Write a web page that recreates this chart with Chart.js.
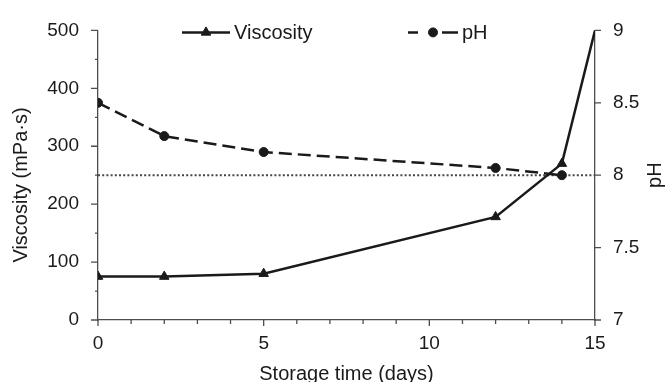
<!DOCTYPE html>
<html>
<head>
<meta charset="utf-8">
<script src="https://cdn.jsdelivr.net/npm/chart.js@4.4.0/dist/chart.umd.min.js"></script>
<style>
  body { margin: 0; background: #fff; }
  canvas { display: block; }
</style>
</head>
<body>
<canvas id="chart" width="670" height="382"></canvas>
<script>
// Viscosity and pH over storage time
const days = [0, 2, 5, 12, 14, 15];
const viscosity = [75, 75, 80, 178, 270, 500];
const phDays = [0, 2, 5, 12, 14];
const phValues = [8.5, 8.27, 8.16, 8.05, 8.0];
// dotted reference line at pH 8 (= 250 on left axis)
const refDays = [0, 15];
const refValues = [250, 250];

// tick labels
const xTicks = [0, 5, 10, 15];
const viscTicks = [0, 100, 200, 300, 400, 500];
const phTicks = [7, 7.5, 8, 8.5, 9];

const INK = "#1a1a1a";
const AXIS = "#4d4d4d";
const FONT = "'Liberation Sans', Arial, sans-serif";

Chart.defaults.font.family = FONT;
Chart.defaults.font.size = 19;
Chart.defaults.color = INK;

function toPoints(xs, ys) {
    return xs.map((x, i) => ({ x: x, y: ys[i] }));
}

function setTicks(list) {
    return scale => { scale.ticks = list.map(v => ({ value: v })); };
}

// legend key: short line with the dataset's marker in the middle
function drawKey(ctx, ds, x0, x1, y, segments) {
    ctx.save();
    ctx.strokeStyle = ds.borderColor;
    ctx.fillStyle = ds.backgroundColor;
    ctx.lineWidth = ds.borderWidth;
    ctx.beginPath();
    segments.forEach(s => { ctx.moveTo(s[0], y); ctx.lineTo(s[1], y); });
    ctx.stroke();
    ctx.lineWidth = 1;
    Chart.helpers.drawPoint(ctx, { pointStyle: ds.pointStyle, radius: ds.keyRadius, borderWidth: 1, rotation: 0 }, (x0 + x1) / 2, y);
    ctx.restore();
}

const extras = {
    id: "extras",
    afterDraw(chart) {
        const { ctx, chartArea: a, scales } = chart;
        const x = scales.x, y = scales.y, y1 = scales.y1;
        ctx.save();

        // tick marks (major + minor)
        ctx.strokeStyle = AXIS;
        ctx.lineWidth = 1.3;
        ctx.beginPath();
        for (let d = x.min; d <= x.max; d++) {
            const px = x.getPixelForValue(d);
            const len = d % 5 === 0 ? 6 : 4;
            ctx.moveTo(px, a.bottom);
            ctx.lineTo(px, a.bottom + len);
        }
        for (let v = y.min; v <= y.max; v += 50) {
            const py = y.getPixelForValue(v);
            const len = v % 100 === 0 ? 7 : 3;
            ctx.moveTo(a.left - len, py);
            ctx.lineTo(a.left, py);
        }
        phTicks.forEach(v => {
            const py = y1.getPixelForValue(v);
            ctx.moveTo(a.right, py);
            ctx.lineTo(a.right + 6, py);
        });
        ctx.stroke();

        // legend
        const ds = chart.data.datasets;
        const ly = a.top + 2;
        drawKey(ctx, ds[0], 182, 230, ly, [[182, 230]]);
        drawKey(ctx, ds[1], 408, 458, ly, [[408, 418], [442, 458]]);
        ctx.font = "20px " + FONT;
        ctx.fillStyle = INK;
        ctx.textAlign = "left";
        ctx.textBaseline = "middle";
        ctx.fillText(ds[0].label, 234, ly + 1);
        ctx.fillText(ds[1].label, 462, ly + 1);

        // axis titles
        ctx.textAlign = "center";
        ctx.save();
        ctx.translate(21, 185);
        ctx.rotate(-Math.PI / 2);
        ctx.fillText("Viscosity (mPa·s)", 0, 0);
        ctx.restore();
        ctx.save();
        ctx.translate(655, (a.top + a.bottom) / 2);
        ctx.rotate(-Math.PI / 2);
        ctx.fillText("pH", 0, 0);
        ctx.restore();
        ctx.textBaseline = "alphabetic";
        ctx.fillText("Storage time (days)", (a.left + a.right) / 2, 380);

        ctx.restore();
    }
};

new Chart(document.getElementById("chart"), {
    type: "line",
    data: {
        datasets: [
            {
                label: "Viscosity",
                data: toPoints(days, viscosity),
                yAxisID: "y",
                borderColor: INK,
                backgroundColor: INK,
                borderWidth: 2.5,
                pointStyle: "triangle",
                pointRadius: ctx => (ctx.raw && ctx.raw.y >= 500 ? 0 : 5.5),
                pointBorderWidth: 1,
                keyRadius: 5.5,
                order: 1
            },
            {
                label: "pH",
                data: toPoints(phDays, phValues),
                yAxisID: "y1",
                borderColor: INK,
                backgroundColor: INK,
                borderWidth: 2.5,
                borderDash: [13, 6],
                pointStyle: "circle",
                pointRadius: 4.5,
                pointBorderWidth: 1,
                keyRadius: 4.5,
                order: 0
            },
            {
                label: "ref",
                data: toPoints(refDays, refValues),
                yAxisID: "y",
                borderColor: "#444444",
                borderWidth: 2,
                borderDash: [2, 2.2],
                pointRadius: 0,
                order: 2
            }
        ]
    },
    options: {
        responsive: false,
        animation: false,
        events: [],
        layout: { padding: { top: 23, left: 0, right: 0, bottom: 0 } },
        plugins: {
            legend: { display: false },
            tooltip: { enabled: false }
        },
        scales: {
            x: {
                type: "linear",
                min: 0,
                max: 15,
                afterBuildTicks: setTicks(xTicks),
                afterFit: s => { s.height = 62; },
                grid: { drawOnChartArea: false, drawTicks: false },
                border: { color: AXIS, width: 1.3 },
                ticks: { padding: 12, color: INK }
            },
            y: {
                position: "left",
                min: 0,
                max: 500,
                afterBuildTicks: setTicks(viscTicks),
                afterFit: s => { s.width = 98; },
                grid: { drawOnChartArea: false, drawTicks: false },
                border: { color: AXIS, width: 1.3 },
                ticks: { padding: 19, color: INK }
            },
            y1: {
                position: "right",
                min: 7,
                max: 9,
                afterBuildTicks: setTicks(phTicks),
                afterFit: s => { s.width = 75; },
                grid: { drawOnChartArea: false, drawTicks: false },
                border: { color: AXIS, width: 1.3 },
                ticks: { padding: 18, color: INK, callback: v => String(v) }
            }
        }
    },
    plugins: [extras]
});
</script>
</body>
</html>
